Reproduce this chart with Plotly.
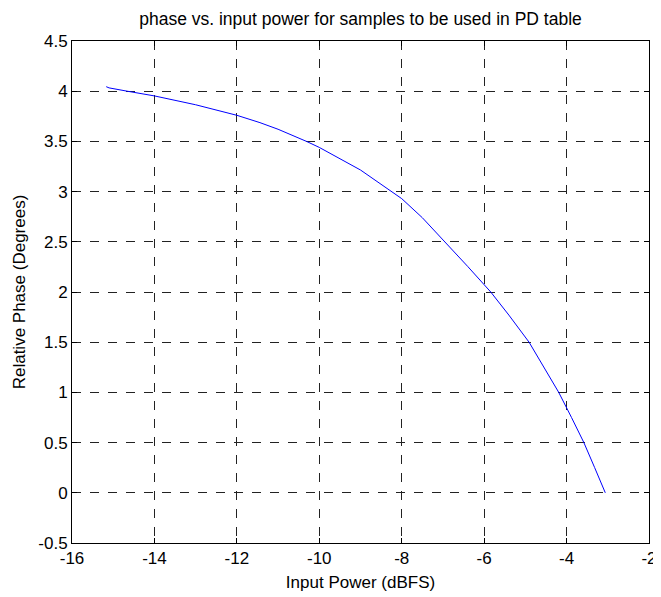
import plotly.graph_objects as go

input_power = [-15.17, -15.1, -14.66, -14.0, -13.0, -12.0, -11.44, -11.0, -10.31, -10.0,
               -9.0, -8.25, -8.0, -7.5, -6.95, -6.4, -5.84, -5.4, -4.91, -4.55,
               -4.19, -3.88, -3.58, -3.32, -3.06]
rel_phase = [4.045, 4.033, 4.0, 3.953, 3.865, 3.76, 3.687, 3.621, 3.5, 3.44,
             3.215, 3.0, 2.93, 2.74, 2.5, 2.255, 2.0, 1.77, 1.5, 1.255,
             1.0, 0.75, 0.5, 0.252, 0.0]

x_ticks = [-16, -14, -12, -10, -8, -6, -4, -2]
y_ticks = [-0.5, 0, 0.5, 1, 1.5, 2, 2.5, 3, 3.5, 4, 4.5]

fig = go.Figure()
fig.add_trace(go.Scatter(x=input_power, y=rel_phase, mode="lines",
                         line=dict(color="#0000ff", width=1),
                         showlegend=False))

font = "Liberation Sans, Arial, sans-serif"
axis_common = dict(showline=True, linecolor="black", linewidth=1, mirror="ticks",
                   ticks="inside", ticklen=5, tickcolor="black",
                   showgrid=True, gridcolor="#222222", griddash="dash", gridwidth=1,
                   zeroline=False, automargin=False, ticklabeloverflow="allow",
                   tickfont=dict(family=font, size=17, color="black"))

W, H = 645, 589
fig.update_layout(
    width=W, height=H,
    margin=dict(l=64, r=4, t=33, b=54),
    paper_bgcolor="white", plot_bgcolor="white",
    title=dict(text="phase vs. input power for samples to be used in PD table",
               x=(64 + 641) / 2 / W, xanchor="center", y=1 - 11 / H, yanchor="middle",
               font=dict(family=font, size=17.5, color="black")),
    xaxis=dict(range=[-16, -2], tickvals=x_ticks, ticktext=[str(v) for v in x_ticks],
               title=dict(text="Input Power (dBFS)", font=dict(family=font, size=17, color="black"),
                          standoff=8),
               **axis_common),
    yaxis=dict(range=[-0.5, 4.5], tickvals=y_ticks, ticktext=[f"{v:g}" for v in y_ticks],
               title=dict(text="Relative Phase (Degrees)", font=dict(family=font, size=17, color="black"),
                          standoff=8),
               **axis_common),
)

fig.write_html("out.html")
